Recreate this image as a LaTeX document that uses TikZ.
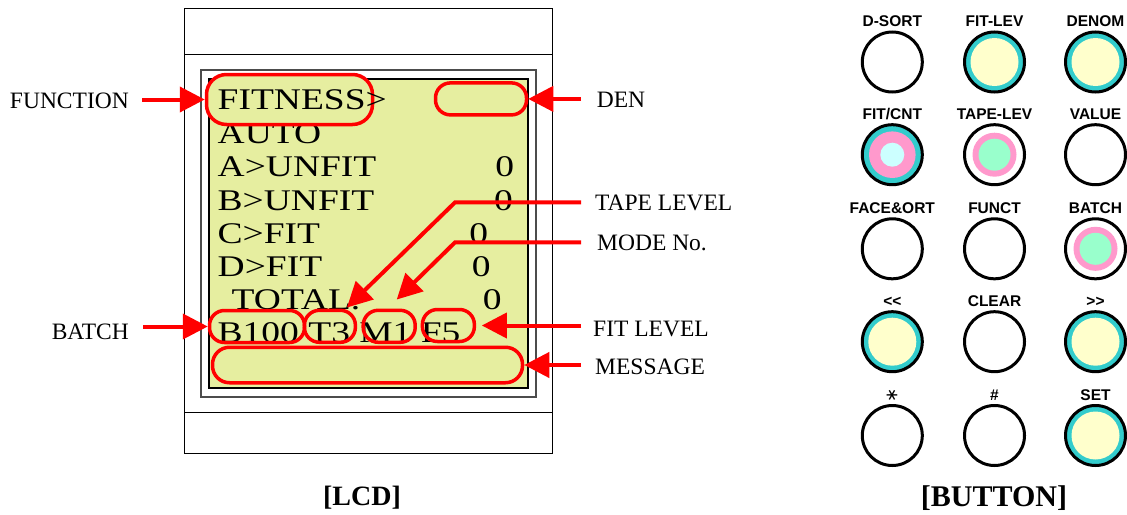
\documentclass[tikz,border=0pt]{standalone}
\usepackage{fontspec}
\usepackage{graphicx}
\setmainfont{Liberation Serif}
\newfontfamily\arialf{Liberation Sans}
\newfontfamily\djv{DejaVu Sans}
\usetikzlibrary{arrows.meta}
\definecolor{lcdfill}{RGB}{230,238,160}
\definecolor{tealc}{RGB}{51,204,204}
\definecolor{ylw}{RGB}{255,255,204}
\definecolor{pnk}{RGB}{255,153,204}
\definecolor{cyn}{RGB}{204,255,255}
\definecolor{mnt}{RGB}{153,255,204}
\newcommand{\lcdt}[1]{\scalebox{1.25}[1]{#1}}
\tikzset{
  lcdtxt/.style={inner sep=0pt, anchor=base west, font=\fontsize{30}{30}\selectfont},
  lcdnum/.style={inner sep=0pt, anchor=base east, font=\fontsize{30}{30}\selectfont},
  oval/.style={draw=red, line width=3.5pt, rounded corners=15pt, inner sep=0pt, minimum height=32pt},
  arr/.style={draw=red, line width=4pt, -{Triangle[length=25pt,width=25pt]}},
  lbl/.style={inner sep=0pt, font=\fontsize{23.5}{24}\selectfont},
  btn/.style={circle, draw=black, line width=3pt, minimum size=60pt, inner sep=0pt, fill=white},
  tealY/.style={btn, fill=tealc, path picture={\fill[ylw] (path picture bounding box.center) circle (24pt);}},
  tealPC/.style={btn, fill=tealc, path picture={\fill[pnk] (path picture bounding box.center) circle (23.3pt); \fill[cyn] (path picture bounding box.center) circle (12pt);}},
  wPM/.style={btn, path picture={\fill[pnk] (path picture bounding box.center) circle (22pt); \fill[mnt] (path picture bounding box.center) circle (16pt);}},
  blbl/.style={inner sep=0pt, anchor=base, font=\arialf\bfseries\fontsize{15.5}{16}\selectfont},
  title/.style={inner sep=0pt, anchor=base, font=\bfseries}
}
\begin{document}
\begin{tikzpicture}[x=1pt,y=-1pt]
\useasboundingbox (0,0) rectangle (1127,514);
% LCD housing
\draw[line width=1.3pt] (184.3,8.3) rectangle (552.3,453.3);
\draw[line width=1.3pt] (184.3,54.3) -- (552.3,54.3);
\draw[line width=1.3pt] (184.3,412.3) -- (552.3,412.3);
\draw[line width=2pt, draw=black!70] (201,70.3) rectangle (536,396.7);
\draw[line width=2pt, fill=lcdfill] (209.3,79) rectangle (527.7,388.3);
% LCD text
\node[lcdtxt] (tauto) at (217.5,143.5) {\lcdt{AUTO}};
\node[lcdtxt] (ta) at (217.5,176.7) {\lcdt{A>UNFIT}};
\node[lcdtxt] (tb) at (217.5,210) {\lcdt{B>UNFIT}};
\node[lcdtxt] (tc) at (217.5,243.3) {\lcdt{C>FIT}};
\node[lcdtxt] (td) at (217.5,276.3) {\lcdt{D>FIT}};
\node[lcdtxt] (ttot) at (231.5,309.3) {\lcdt{TOTAL.}};
\node[lcdtxt] (tbot) at (217.5,342.5) {\lcdt{B100 T3 M1 F5}};
\node[lcdnum] (za) at (514.3,176.7) {\lcdt{0}};
\node[lcdnum] (zb) at (513,210) {\lcdt{0}};
\node[lcdnum] (zc) at (488.3,243.3) {\lcdt{0}};
\node[lcdnum] (zd) at (490.7,276.3) {\lcdt{0}};
\node[lcdnum] (ztot) at (501.7,309.3) {\lcdt{0}};
% FITNESS oval (filled) and text
\node[oval, fill=lcdfill, rounded corners=20pt, minimum width=166pt, minimum height=50pt] (ofit) at (289.5,99.5) {};
\node[lcdtxt] (tfit) at (217.5,109.5) {\lcdt{FITNESS>}};
% other ovals
\node[oval, minimum width=91pt] (oden) at (481,98.9) {};
\node[oval, minimum width=95pt] (ob) at (257,326.5) {};
\node[oval, minimum width=51pt] (ot) at (329.9,326.3) {};
\node[oval, minimum width=52pt] (om) at (389.2,326.3) {};
\node[oval, minimum width=52pt] (of) at (448.4,325.5) {};
\node[oval, rounded corners=17pt, minimum width=310pt, minimum height=35.5pt] (omsg) at (367.5,365) {};
% labels
\node[lbl, anchor=base east] (lfun) at (129,108) {FUNCTION};
\node[lbl, anchor=base east] (lbat) at (129,339.3) {BATCH};
\node[lbl, anchor=base west] (lden) at (596.7,107.7) {DEN};
\node[lbl, anchor=base west] (ltape) at (595,210) {TAPE LEVEL};
\node[lbl, anchor=base west] (lmode) at (597,250) {MODE No.};
\node[lbl, anchor=base west] (lfitl) at (593,336.7) {FIT LEVEL};
\node[lbl, anchor=base west] (lmsg) at (595,374.3) {MESSAGE};
% arrows
\draw[arr] ([xshift=13pt]lfun.east |- ofit.west) -- (ofit.west);
\draw[arr] ([xshift=14pt]lbat.east |- ob.west) -- (ob.west);
\draw[arr] ([xshift=-15.7pt]lden.west |- oden.east) -- (oden.east);
\draw[arr] ([xshift=-14pt]ltape.west) -- ++(-126,0) -- ([xshift=17pt,yshift=1pt]ot.north);
\draw[arr] ([xshift=-16pt]lmode.west) -- ++(-126,0) -- ([xshift=7.5pt,yshift=9pt]om.north);
\draw[arr] ([xshift=-12pt]lfitl.west |- of.east) -- ([xshift=5.7pt]of.east);
\draw[arr] ([xshift=-14pt]lmsg.west |- omsg.east) -- (omsg.east);
% titles
\node[title, font=\bfseries\fontsize{28}{28}\selectfont] (tlcd) at (362,505) {[LCD]};
\node[title, font=\bfseries\fontsize{30}{30}\selectfont] (tbtn) at (994,506.5) {[BUTTON]};
% buttons
\node[btn] (b11) at (892.3,62) {};
\node[tealY] (b12) at (994.5,62) {};
\node[tealY] (b13) at (1095.5,62) {};
\node[tealPC] (b21) at (892.3,154.7) {};
\node[wPM] (b22) at (994.5,154.7) {};
\node[btn] (b23) at (1095.5,154.7) {};
\node[btn] (b31) at (892.3,248.8) {};
\node[btn] (b32) at (994.5,248.8) {};
\node[wPM] (b33) at (1095.5,248.8) {};
\node[tealY] (b41) at (892.3,341.7) {};
\node[btn] (b42) at (994.5,341.7) {};
\node[tealY] (b43) at (1095.5,341.7) {};
\node[btn] (b51) at (892.3,435.5) {};
\node[btn] (b52) at (994.5,435.5) {};
\node[tealY] (b53) at (1095.5,435.5) {};
% button labels
\node[blbl] (l11) at (892.3,26.5) {D-SORT};
\node[blbl] (l12) at (994.5,26.5) {FIT-LEV};
\node[blbl] (l13) at (1095.5,26.5) {DENOM};
\node[blbl] (l21) at (892.3,119) {FIT/CNT};
\node[blbl] (l22) at (994.5,119) {TAPE-LEV};
\node[blbl] (l23) at (1095.5,119) {VALUE};
\node[blbl] (l31) at (892.3,213.3) {FACE\&ORT};
\node[blbl] (l32) at (994.5,213.3) {FUNCT};
\node[blbl] (l33) at (1095.5,213.3) {BATCH};
\node[blbl] (l41) at (892.3,306) {<{}<};
\node[blbl] (l42) at (994.5,306) {CLEAR};
\node[blbl] (l43) at (1095.5,306) {>{}>};
\node[inner sep=0pt, font=\djv\fontsize{17}{17}\selectfont] (l51) at (892,395) {\rotatebox{90}{∗}};
\node[blbl] (l52) at (994.5,400) {\#};
\node[blbl] (l53) at (1095.5,400) {SET};
\end{tikzpicture}
\end{document}
